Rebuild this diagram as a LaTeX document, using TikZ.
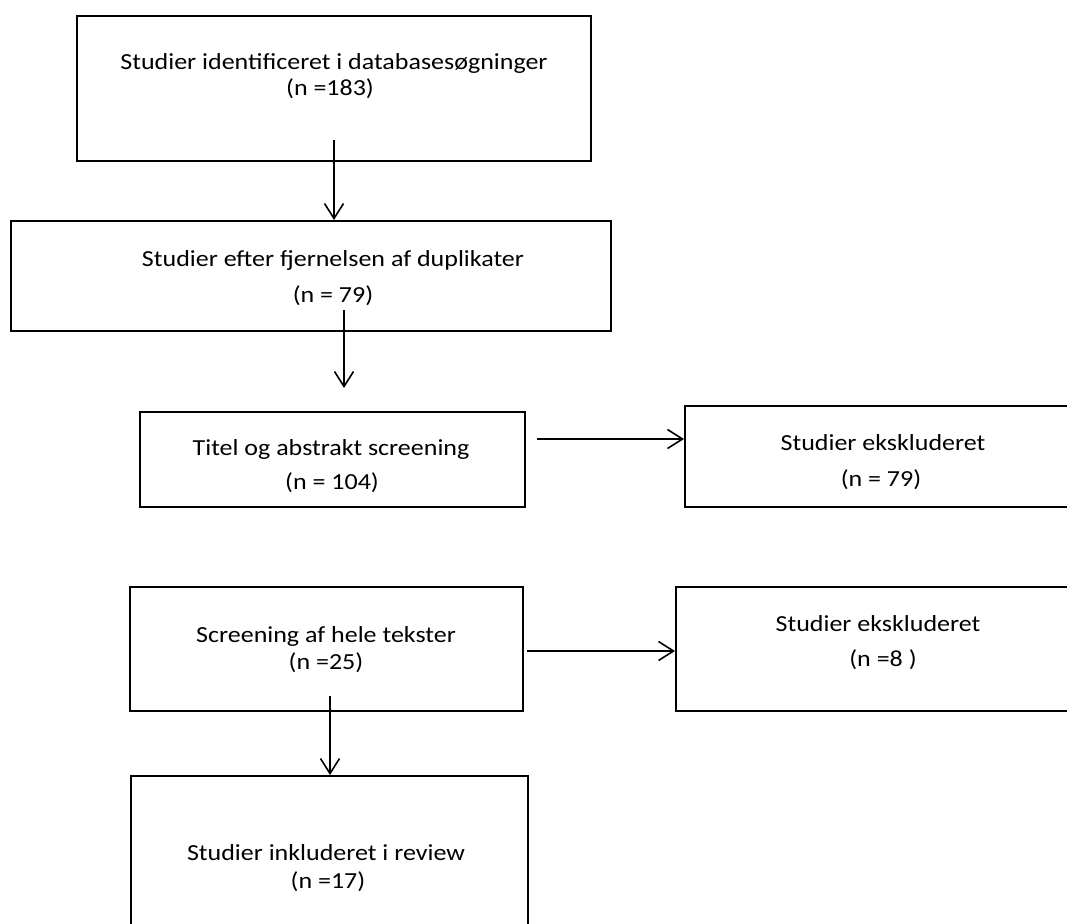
\documentclass[tikz,border=0pt]{standalone}
\usepackage{fontspec}
\setmainfont{Carlito}[FakeStretch=1.13]
\usetikzlibrary{arrows.meta}
\begin{document}
\begin{tikzpicture}[x=1pt,y=-1pt,
  box/.style={draw=black, line width=1.8pt, rectangle, inner sep=0pt, anchor=north west},
  lbl/.style={font=\fontsize{23pt}{28pt}\selectfont, inner sep=0pt, anchor=base},
  conn/.style={line width=1.6pt, -{Straight Barb[length=15pt,width=19pt,line width=1.6pt]}}
]
\useasboundingbox (0,0) rectangle (1067,923);
\fill[white] (0,0) rectangle (1067,923);
\clip (0,0) rectangle (1067,923);

% boxes
\node[box, minimum width=514pt, minimum height=145pt] (b1) at (76,15) {};
\node[box, minimum width=600pt, minimum height=110pt] (b2) at (10,220) {};
\node[box, minimum width=385pt, minimum height=95pt] (b3) at (139,411) {};
\node[box, minimum width=420pt, minimum height=101pt] (b4) at (684,405) {};
\node[box, minimum width=393pt, minimum height=124pt] (b5) at (129,586) {};
\node[box, minimum width=420pt, minimum height=124pt] (b6) at (675,586) {};
\node[box, minimum width=397pt, minimum height=200pt] (b7) at (130,775) {};

% texts
\node[lbl] (t1a) at (334,70) {Studier identificeret i databasesøgninger};
\node[lbl] (t1b) at (330,96) {(n =183)};
\node[lbl] (t2a) at (333,266) {Studier efter fjernelsen af duplikater};
\node[lbl] (t2b) at (333,302) {(n = 79)};
\node[lbl] (t3a) at (331,455) {Titel og abstrakt screening};
\node[lbl] (t3b) at (332,489) {(n = 104)};
\node[lbl] (t4a) at (883,450) {Studier ekskluderet};
\node[lbl] (t4b) at (881,486) {(n = 79)};
\node[lbl] (t5a) at (326,642) {Screening af hele tekster};
\node[lbl] (t5b) at (326,669) {(n =25)};
\node[lbl] (t6a) at (878,631) {Studier ekskluderet};
\node[lbl] (t6b) at (883,666) {(n =8 )};
\node[lbl] (t7a) at (326,860) {Studier inkluderet i review};
\node[lbl] (t7b) at (328,888) {(n =17)};

% connector ends
\coordinate (a1s) at (334,140);
\coordinate (a2s) at (344,310);
\coordinate (a2e) at (344,388);
\coordinate (a3s) at (537,439);
\coordinate (a4s) at (527,651);
\coordinate (a5s) at (330,696);

\draw[conn] (a1s) -- (a1s |- b2.north);
\draw[conn] (a2s) -- (a2e);
\draw[conn] (a3s) -- (a3s -| b4.west);
\draw[conn] (a4s) -- (a4s -| b6.west);
\draw[conn] (a5s) -- (a5s |- b7.north);
\end{tikzpicture}
\end{document}
